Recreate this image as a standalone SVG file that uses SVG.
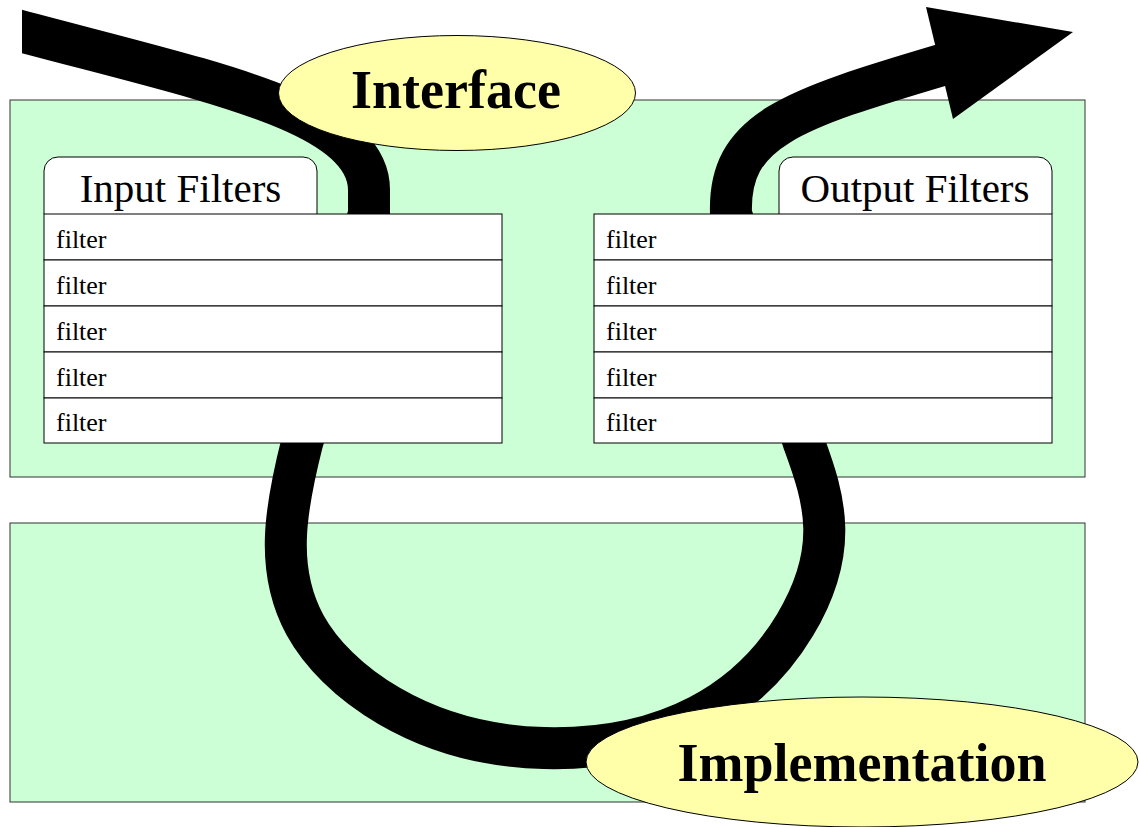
<svg xmlns="http://www.w3.org/2000/svg" width="1139" height="827" viewBox="0 0 1139 827">
  <style>
    .layer { fill: #ccffd6; stroke: #333333; stroke-width: 1; }
    .row { fill: #ffffff; stroke: #000000; stroke-width: 1; }
    .tab { fill: #ffffff; stroke: #000000; stroke-width: 1; }
    .bubble { fill: #ffffaa; stroke: #000000; stroke-width: 1; }
    .rowtext { font-family: "Liberation Serif", "Times New Roman", serif; font-size: 26px; fill: #000000; }
    .tabtext { font-family: "Liberation Serif", "Times New Roman", serif; font-size: 41px; fill: #000000; text-anchor: middle; }
    .bigtext { font-family: "Liberation Serif", "Times New Roman", serif; font-size: 54px; font-weight: bold; fill: #000000; text-anchor: middle; }
    .flow { fill: none; stroke: #000000; stroke-width: 42; stroke-linejoin: round; stroke-linecap: butt; }
  </style>
  <defs>
    <clipPath id="clipLeft">
      <rect x="22" y="0" width="1117" height="827"/>
    </clipPath>
  </defs>

  <rect x="0" y="0" width="1139" height="827" fill="#ffffff"/>

  <g id="interface-layer">
    <rect class="layer" x="10" y="100" width="1075" height="377"/>
  </g>
  <g id="implementation-layer">
    <rect class="layer" x="10" y="523" width="1075" height="279"/>
  </g>

  <g id="connectors">
    <path class="flow" clip-path="url(#clipLeft)" d="M 0 25.5 C 200 80, 369 110, 369 190 L 369 214 L 302 443 C 285 510, 275 570, 305 625 S 420 745, 544 748 C 668 751, 750 700, 795 625 S 825 500, 804 443 L 731 214 C 728 130, 790 110, 945 64"/>
    <polygon points="926,7 1073,32 953,119" fill="#000000"/>
  </g>

  <g id="input-filters">
    <path class="tab" d="M 44 214 L 44 171 A 14 14 0 0 1 58 157 L 303 157 A 14 14 0 0 1 317 171 L 317 214"/>
    <text class="tabtext" x="180.5" y="202">Input Filters</text>
    <rect class="row" x="44" y="214" width="458" height="46"/>
    <rect class="row" x="44" y="260" width="458" height="46"/>
    <rect class="row" x="44" y="306" width="458" height="46"/>
    <rect class="row" x="44" y="352" width="458" height="46"/>
    <rect class="row" x="44" y="398" width="458" height="45"/>
    <text class="rowtext" x="56" y="248">filter</text>
    <text class="rowtext" x="56" y="294">filter</text>
    <text class="rowtext" x="56" y="340">filter</text>
    <text class="rowtext" x="56" y="386">filter</text>
    <text class="rowtext" x="56" y="431">filter</text>
  </g>

  <g id="output-filters">
    <path class="tab" d="M 779 214 L 779 171 A 14 14 0 0 1 793 157 L 1038 157 A 14 14 0 0 1 1052 171 L 1052 214"/>
    <text class="tabtext" x="915" y="202">Output Filters</text>
    <rect class="row" x="594" y="214" width="458" height="46"/>
    <rect class="row" x="594" y="260" width="458" height="46"/>
    <rect class="row" x="594" y="306" width="458" height="46"/>
    <rect class="row" x="594" y="352" width="458" height="46"/>
    <rect class="row" x="594" y="398" width="458" height="45"/>
    <text class="rowtext" x="606" y="248">filter</text>
    <text class="rowtext" x="606" y="294">filter</text>
    <text class="rowtext" x="606" y="340">filter</text>
    <text class="rowtext" x="606" y="386">filter</text>
    <text class="rowtext" x="606" y="431">filter</text>
  </g>

  <g id="interface">
    <ellipse class="bubble" cx="457" cy="93" rx="178.5" ry="57.5"/>
    <text class="bigtext" x="456" y="108">Interface</text>
  </g>

  <g id="implementation">
    <ellipse class="bubble" cx="862" cy="762" rx="276" ry="65"/>
    <text class="bigtext" x="862" y="781">Implementation</text>
  </g>
</svg>
